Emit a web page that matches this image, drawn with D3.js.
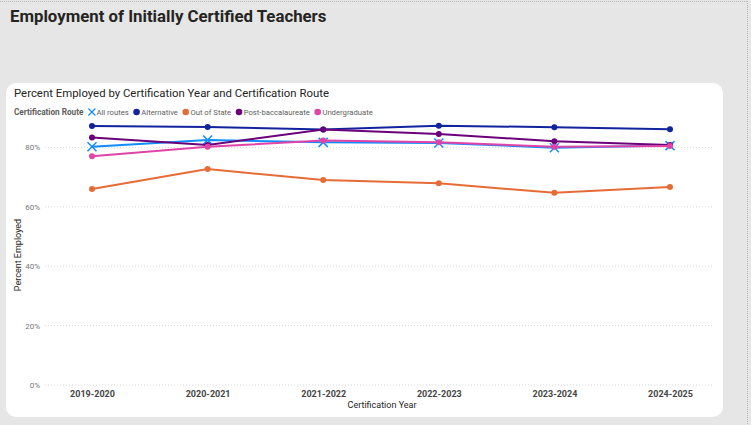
<!DOCTYPE html>
<html>
<head>
<meta charset="utf-8">
<script src="https://cdn.jsdelivr.net/npm/d3@7/dist/d3.min.js"></script>
<style>
  html, body { margin: 0; padding: 0; background: #e6e6e6; }
  svg { display: block; }
</style>
</head>
<body>
<div id="chart"></div>
<script>
/* global d3 */

// ── Data ─────────────────────────────────────────────────────────
const years = ['2019-2020', '2020-2021', '2021-2022', '2022-2023', '2023-2024', '2024-2025'];
const routes = ['All routes', 'Alternative', 'Out of State', 'Post-baccalaureate', 'Undergraduate'];
const allRoutes = [80.2, 82.5, 81.7, 81.5, 79.9, 80.6];
const alternative = [87.2, 86.9, 86.0, 87.3, 86.8, 86.1];
const outOfState = [66.0, 72.7, 69.0, 67.9, 64.7, 66.7];
const postBacc = [83.3, 80.8, 86.0, 84.5, 82.1, 80.8];
const undergraduate = [77.0, 80.2, 82.3, 81.7, 80.2, 80.5];
const yTicks = [0, 20, 40, 60, 80];

const seriesValues = [allRoutes, alternative, outOfState, postBacc, undergraduate];
const colors = ['#118DFF', '#12239E', '#E66C37', '#6B007B', '#E044A7'];

const W = 751;
const H = 425;
const FONT = 'Roboto, "Liberation Sans", sans-serif';
const NARROW = '"Liberation Sans Narrow", Roboto, sans-serif';

const svg = d3.select('#chart').append('svg')
  .attr('width', W)
  .attr('height', H);

// page background + dotted frame
svg.append('rect').attr('width', W).attr('height', H).attr('fill', '#e6e6e6');
svg.append('line')
  .attr('x1', 0).attr('x2', W - 3).attr('y1', 1.5).attr('y2', 1.5)
  .attr('stroke', '#b8b8b8').attr('stroke-dasharray', '1 1');
svg.append('line')
  .attr('x1', W - 3.5).attr('x2', W - 3.5).attr('y1', 1).attr('y2', H)
  .attr('stroke', '#b8b8b8').attr('stroke-dasharray', '1 1');

// page title
svg.append('text')
  .attr('x', 10).attr('y', 22)
  .attr('font-family', FONT)
  .attr('font-weight', 700)
  .attr('font-size', 16.8)
  .attr('fill', '#252423')
  .text('Employment of Initially Certified Teachers');

// card
svg.append('rect')
  .attr('x', 6).attr('y', 83)
  .attr('width', 717).attr('height', 334)
  .attr('rx', 10)
  .attr('fill', '#ffffff');

svg.append('text')
  .attr('x', 14).attr('y', 97)
  .attr('font-family', FONT)
  .attr('font-size', 11.4)
  .attr('fill', '#252423')
  .text('Percent Employed by Certification Year and Certification Route');

// ── Legend ───────────────────────────────────────────────────────
const legend = svg.append('g').attr('transform', 'translate(14,112)');
const legTitle = legend.append('text')
  .attr('y', 3)
  .attr('font-family', FONT)
  .attr('font-weight', 700)
  .attr('font-size', 8.2)
  .attr('fill', '#605E5C')
  .text('Certification Route');
let lx = legTitle.node().getComputedTextLength() + 5;
routes.forEach((name, i) => {
  if (i === 0) {
    legend.append('path')
      .attr('d', `M${lx},-3.5 l7,7 M${lx},3.5 l7,-7`)
      .attr('stroke', colors[i]).attr('stroke-width', 1.2).attr('fill', 'none');
    lx += 8;
  } else {
    legend.append('circle')
      .attr('cx', lx + 3.3).attr('cy', 0).attr('r', 3.3)
      .attr('fill', colors[i]);
    lx += 8;
  }
  const t = legend.append('text')
    .attr('x', lx).attr('y', 3)
    .attr('font-family', FONT)
    .attr('font-size', 7.7)
    .attr('fill', '#605E5C')
    .text(name);
  lx += t.node().getComputedTextLength() + 4.5;
});

// ── Scales & axes ────────────────────────────────────────────────
const x = d3.scalePoint().domain(years).range([92, 670]);
const y = d3.scaleLinear().domain([0, 100]).range([385, 88]);

const grid = svg.append('g');
grid.selectAll('line')
  .data(yTicks)
  .join('line')
  .attr('x1', 45).attr('x2', 714)
  .attr('y1', (d) => y(d)).attr('y2', (d) => y(d))
  .attr('stroke', '#d9d9d9')
  .attr('stroke-dasharray', '1 2');

const yAxis = svg.append('g')
  .attr('transform', 'translate(40,0)')
  .call(d3.axisLeft(y).tickValues(yTicks).tickFormat((d) => `${d}%`).tickSize(0).tickPadding(0));
yAxis.select('.domain').remove();
yAxis.selectAll('text')
  .attr('font-family', NARROW)
  .attr('font-size', 8)
  .attr('fill', '#777777');

const xAxis = svg.append('g')
  .attr('transform', 'translate(0,391)')
  .call(d3.axisBottom(x).tickSize(0).tickPadding(0));
xAxis.select('.domain').remove();
xAxis.selectAll('text')
  .attr('font-family', NARROW)
  .attr('font-size', 9)
  .attr('font-weight', 700)
  .attr('fill', '#444444');

svg.append('text')
  .attr('x', (x.range()[0] + x.range()[1]) / 2 + 1)
  .attr('y', 408)
  .attr('text-anchor', 'middle')
  .attr('font-family', NARROW)
  .attr('font-size', 9)
  .attr('fill', '#252423')
  .text('Certification Year');

svg.append('text')
  .attr('transform', 'translate(21,255) rotate(-90)')
  .attr('text-anchor', 'middle')
  .attr('font-family', NARROW)
  .attr('font-size', 9)
  .attr('fill', '#252423')
  .text('Percent Employed');

// ── Lines & markers ──────────────────────────────────────────────
const line = d3.line()
  .x((d, i) => x(years[i]))
  .y((d) => y(d));

seriesValues.forEach((vals, s) => {
  const g = svg.append('g');
  g.append('path')
    .datum(vals)
    .attr('d', line)
    .attr('fill', 'none')
    .attr('stroke', colors[s])
    .attr('stroke-width', 2);

  if (s === 0) {
    g.selectAll('path.mark')
      .data(vals)
      .join('path')
      .attr('class', 'mark')
      .attr('d', (d, i) => {
        const cx = x(years[i]);
        const cy = y(d);
        return `M${cx - 4.5},${cy - 4.5}L${cx + 4.5},${cy + 4.5}M${cx - 4.5},${cy + 4.5}L${cx + 4.5},${cy - 4.5}`;
      })
      .attr('stroke', colors[s])
      .attr('stroke-width', 1.5);
  } else {
    g.selectAll('circle')
      .data(vals)
      .join('circle')
      .attr('cx', (d, i) => x(years[i]))
      .attr('cy', (d) => y(d))
      .attr('r', 3)
      .attr('fill', colors[s]);
  }
});
</script>
</body>
</html>
